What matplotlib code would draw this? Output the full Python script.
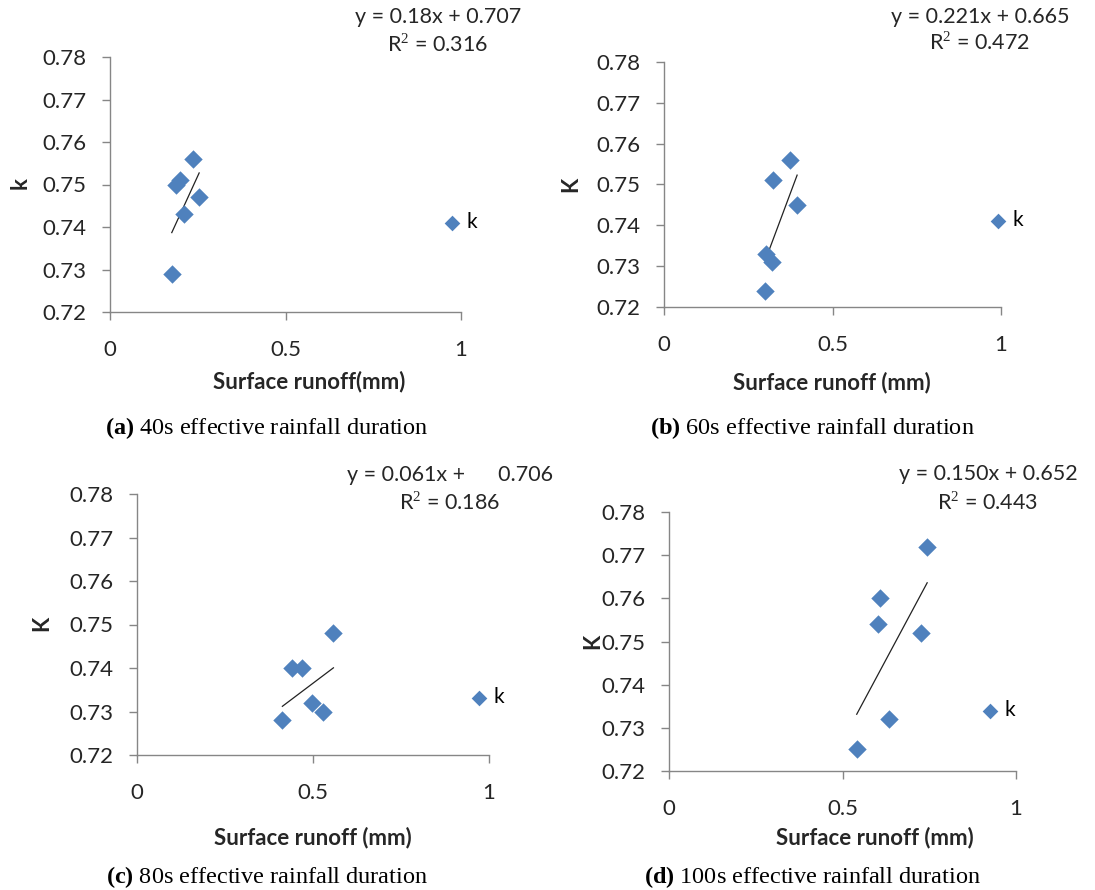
import matplotlib
matplotlib.use("Agg")
import matplotlib.pyplot as plt
import numpy as np

# data
x_a = [0.237, 0.188, 0.199, 0.254, 0.211, 0.176]
k_a = [0.756, 0.750, 0.751, 0.747, 0.743, 0.729]
x_b = [0.373, 0.323, 0.395, 0.303, 0.320, 0.301]
k_b = [0.756, 0.751, 0.745, 0.733, 0.731, 0.724]
x_c = [0.558, 0.441, 0.470, 0.496, 0.527, 0.413]
k_c = [0.748, 0.740, 0.740, 0.732, 0.730, 0.728]
x_d = [0.744, 0.609, 0.603, 0.726, 0.635, 0.541]
k_d = [0.772, 0.760, 0.754, 0.752, 0.732, 0.725]

slopes = [0.18, 0.221, 0.061, 0.150]
intercepts = [0.707, 0.665, 0.706, 0.652]
eq_texts = ["y = 0.18x + 0.707", "y = 0.221x + 0.665",
            "y = 0.061x +      0.706", "y = 0.150x + 0.652"]
r2_texts = ["R$^2$ = 0.316", "R$^2$ = 0.472", "R$^2$ = 0.186", "R$^2$ = 0.443"]
ylabels = ["k", "K", "K", "K"]
xlabels = ["Surface runoff(mm)", "Surface runoff (mm)",
           "Surface runoff (mm)", "Surface runoff (mm)"]
letters = ["a", "b", "c", "d"]
durations = ["40s", "60s", "80s", "100s"]

xticks = [0, 0.5, 1]
xticklabels = ["0", "0.5", "1"]
yticks = [0.72, 0.73, 0.74, 0.75, 0.76, 0.77, 0.78]

W, H = 1095, 890
SANS = "Lato"
SERIF = "Liberation Serif"
BLUE = "#4F81BD"
GREY = "#868686"
TXT = "#262626"
FS = 16

plt.rcParams["mathtext.fontset"] = "custom"
plt.rcParams["mathtext.rm"] = SERIF
plt.rcParams["mathtext.bf"] = SERIF + ":bold"

# layout in pixels: axes box (left, top, right, bottom)
boxes = [(110, 57, 461, 312), (664, 62, 1001, 307),
         (137, 494, 489, 755), (669, 512, 1016, 771)]
eq_pos = [(438, 17, 45), (980, 17, 43), (450, 475, 503), (988, 474, 502)]
xlab_pos = [(309, 382), (832, 383), (313, 838), (875, 838)]
ylab_pos = [(20, 183), (571, 184), (42, 623), (593, 641)]
cap_pos = [(267, 428), (812, 428), (267, 877), (812, 877)]
leg_pos = [(452, 222), (998, 220), (479, 697), (990, 710)]

fig = plt.figure(figsize=(W / 100, H / 100), dpi=100)

def fx(px):
    return px / W

def fy(py):
    return 1 - py / H

panels = [(x_a, k_a), (x_b, k_b), (x_c, k_c), (x_d, k_d)]

for i, (xs, ks) in enumerate(panels):
    l, t, r, b = boxes[i]
    ax = fig.add_axes([fx(l), fy(b), (r - l) / W, (b - t) / H])
    ax.scatter(xs, ks, marker="D", s=88, color=BLUE, label="k", zorder=3,
               linewidths=0)
    xr = np.array([min(xs), max(xs)])
    ax.plot(xr, slopes[i] * xr + intercepts[i], color="#222222", lw=0.9)

    ax.set_xlim(0, 1)
    ax.set_ylim(0.72, 0.78)
    ax.set_xticks(xticks)
    ax.set_xticklabels(xticklabels)
    ax.set_yticks(yticks)
    ax.set_yticklabels([f"{v:.2f}" for v in yticks])
    for s in ["top", "right"]:
        ax.spines[s].set_visible(False)
    for s in ["left", "bottom"]:
        ax.spines[s].set_color(GREY)
        ax.spines[s].set_linewidth(1)
    ax.tick_params(axis="x", length=6, width=1, color=GREY, pad=14,
                   labelsize=FS, labelcolor=TXT)
    ax.tick_params(axis="y", length=6, width=1, color=GREY, pad=11,
                   labelsize=FS, labelcolor=TXT)
    for lab in ax.get_xticklabels() + ax.get_yticklabels():
        lab.set_fontfamily(SANS)

    # legend "k" sitting at the right edge
    mx, my = leg_pos[i]
    hl = 0.7
    half = hl * 15 * 100 / 72 / 2
    ax.legend(loc="center left", bbox_to_anchor=(fx(mx - half), fy(my)),
              bbox_transform=fig.transFigure, frameon=False, borderpad=0,
              borderaxespad=0, handlelength=hl, handletextpad=0.35,
              markerscale=0.85, prop={"family": SANS, "size": 15})

    cx, y1, y2 = eq_pos[i]
    fig.text(fx(cx), fy(y1), eq_texts[i], ha="center", va="center",
             family=SANS, size=15.5, color=TXT)
    fig.text(fx(cx), fy(y2), r2_texts[i], ha="center", va="center",
             family=SANS, size=15.5, color=TXT)

    lx, ly = xlab_pos[i]
    fig.text(fx(lx), fy(ly), xlabels[i], ha="center", va="center",
             family=SANS, size=16, weight="bold", color=TXT)
    yx, yy = ylab_pos[i]
    fig.text(fx(yx), fy(yy), ylabels[i], ha="center", va="center",
             rotation=90, family=SANS, size=16, weight="bold", color=TXT)

    ccx, ccy = cap_pos[i]
    fig.text(fx(ccx), fy(ccy),
             r"$\mathbf{(" + letters[i] + r")}$ " + durations[i]
             + " effective rainfall duration",
             ha="center", va="center", family=SERIF, size=17.5, color="black")

fig.savefig("out.png", dpi=100)
